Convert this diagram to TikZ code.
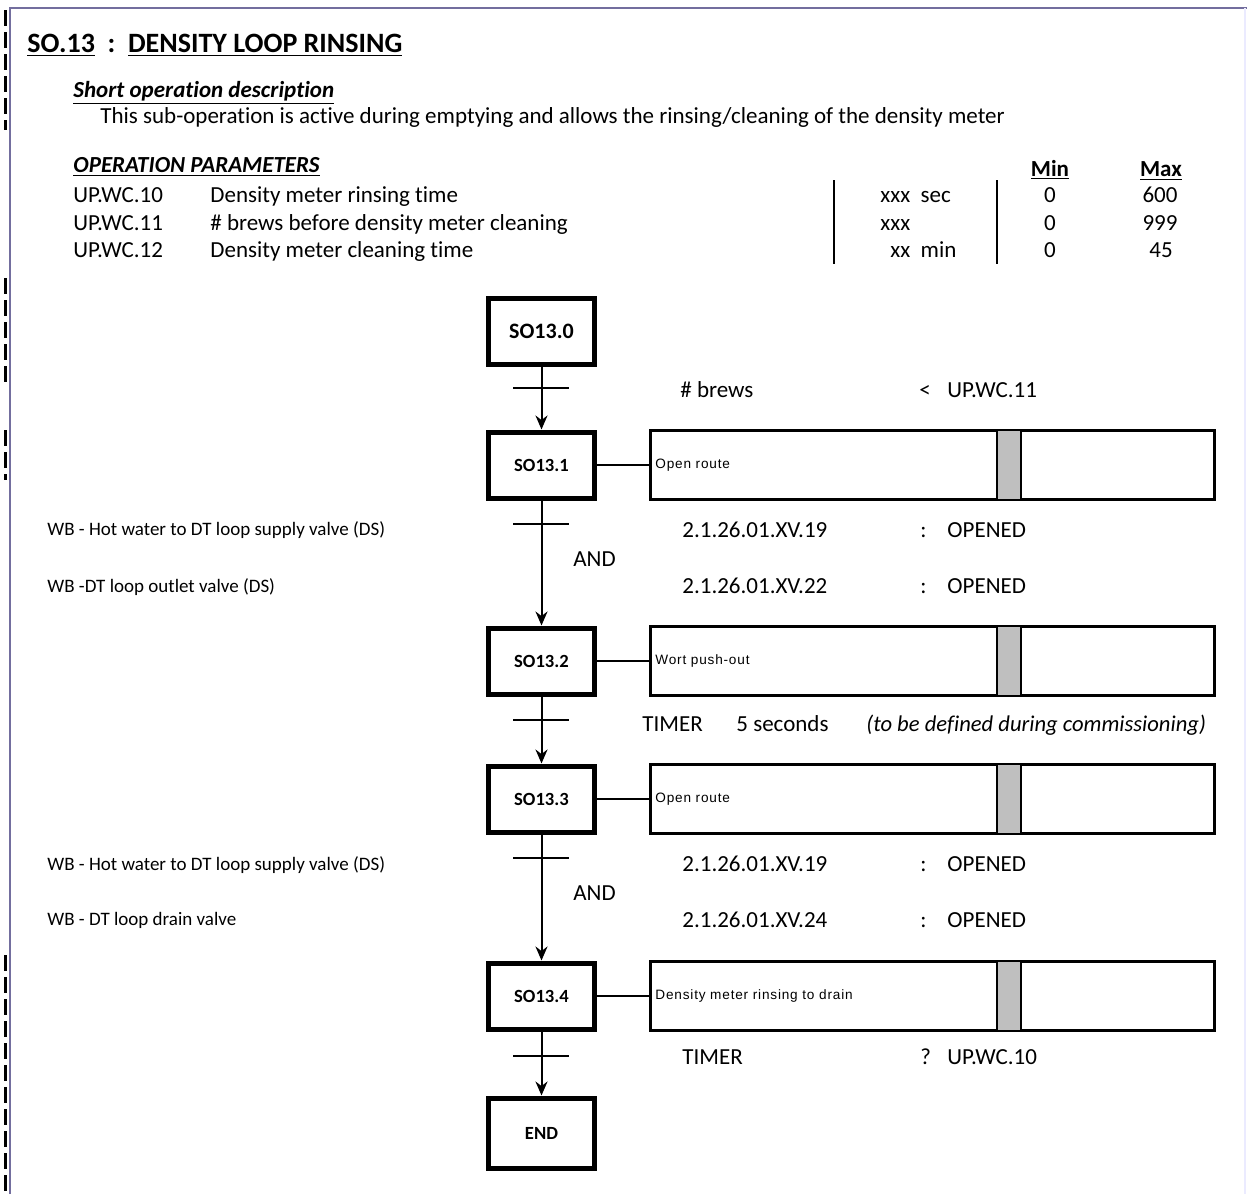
\documentclass[tikz,border=0pt]{standalone}
\usepackage{fontspec}
\setmainfont{Carlito}[Ligatures=NoCommon]
\newfontfamily\arialf{Liberation Sans}[LetterSpace=6]
\usetikzlibrary{arrows.meta}
\definecolor{frame}{rgb}{0.45,0.43,0.62}
\definecolor{strip}{gray}{0.75}
\tikzset{
  txt/.style={inner sep=0pt, anchor=base west, font=\fontsize{11.5}{13}\selectfont},
  txtc/.style={inner sep=0pt, anchor=base, font=\fontsize{11.5}{13}\selectfont},
  lbl/.style={inner sep=0pt, anchor=base west, font=\fontsize{9.5}{11}\selectfont},
  stepbox/.style={draw, line width=2.5pt, minimum width=53pt, minimum height=33pt, inner sep=0pt, font=\fontsize{9.3}{11}\bfseries\selectfont},
  actbox/.style={draw, line width=1.5pt, minimum width=282pt, minimum height=34.5pt, inner sep=0pt},
  acttxt/.style={inner sep=0pt, anchor=west, font=\arialf\fontsize{6.8}{8}\selectfont},
  flow/.style={line width=1pt, -{Stealth[length=7pt,width=6pt]}},
  tick/.style={line width=0.9pt},
}
\begin{document}
\begin{tikzpicture}[x=0.5pt,y=-0.5pt]
\useasboundingbox (0,0) rectangle (1247,1194);
\fill[white] (0,0) rectangle (1247,1194);
% frame
\draw[frame, line width=1.2pt] (10,1194) -- (10,8) -- (1247,8);
\draw[line width=1.5pt, dash pattern=on 8pt off 3pt] (5,10) -- (5,130);
\draw[line width=1.5pt, dash pattern=on 8pt off 3pt] (5,278) -- (5,385);
\draw[line width=1.5pt, dash pattern=on 8pt off 3pt] (5,430) -- (5,480);
\draw[line width=1.5pt, dash pattern=on 8pt off 3pt] (5,955) -- (5,1194);
\draw[blue!8, line width=0.8pt] (1245,8) -- (1245,1194);

% header
\node[txt, font=\fontsize{14}{17}\bfseries\selectfont] (title) at (27,52) {\underline{SO.13}\ \ :\ \ \underline{DENSITY LOOP RINSING}};
\node[txt, font=\fontsize{11.5}{13}\bfseries\itshape\selectfont] (sod) at (73,97) {\underline{Short operation description}};
\node[txt] (desc) at (100,123) {This sub-operation is active during emptying and allows the rinsing/cleaning of the density meter};
\node[txt, font=\fontsize{11.5}{13}\bfseries\itshape\selectfont] (opp) at (73,172) {\underline{OPERATION PARAMETERS}};
\node[txtc, font=\fontsize{11.5}{13}\bfseries\selectfont] (min) at (1050,176) {\underline{Min}};
\node[txtc, font=\fontsize{11.5}{13}\bfseries\selectfont] (max) at (1161,176) {\underline{Max}};

\node[txt] (p1) at (73,202) {UP.WC.10};
\node[txt] (p2) at (73,230) {UP.WC.11};
\node[txt] (p3) at (73,257) {UP.WC.12};
\node[txt] (d1) at (210,202) {Density meter rinsing time};
\node[txt] (d2) at (210,230) {\# brews before density meter cleaning};
\node[txt] (d3) at (210,257) {Density meter cleaning time};
\node[txt] (u1) at (880,202) {xxx\ \ sec};
\node[txt] (u2) at (880,230) {xxx};
\node[txt] (u3) at (890,257) {xx\ \ min};
\node[txtc] (mn1) at (1050,202) {0};
\node[txtc] (mn2) at (1050,230) {0};
\node[txtc] (mn3) at (1050,257) {0};
\node[txtc] (mx1) at (1160,202) {600};
\node[txtc] (mx2) at (1160,230) {999};
\node[txtc] (mx3) at (1161,257) {45};
\coordinate (v1t) at (834,180); \coordinate (v1b) at (834,264);
\coordinate (v2t) at (997,180); \coordinate (v2b) at (997,264);
\draw[line width=1.3pt] (v1t) -- (v1b);
\draw[line width=0.7pt] (v2t) -- (v2b);

% steps
\node[stepbox, font=\fontsize{11}{13}\bfseries\selectfont] (s0) at (541.5,331) {SO13.0};
\node[stepbox] (s1) at (541.5,465) {SO13.1};
\node[stepbox] (s2) at (541.5,661) {SO13.2};
\node[stepbox] (s3) at (541.5,799) {SO13.3};
\node[stepbox] (s4) at (541.5,996) {SO13.4};
\node[stepbox, minimum height=35pt] (se) at (541.5,1133) {END};

% actions
\foreach \n/\y/\t in {a1/465/Open route, a2/661/Wort push-out, a3/799/Open route, a4/996/Density meter rinsing to drain}{
  \node[actbox] (\n) at (932,\y) {};
  \fill[strip] (997,\y-34) rectangle (1021,\y+34);
  \draw[line width=0.6pt] (997,\y-34) -- (997,\y+34) (1021,\y-34) -- (1021,\y+34);
  \node[acttxt] (\n t) at (655,\y) {\t};
}
\foreach \s/\a in {s1/a1, s2/a2, s3/a3, s4/a4}{
  \draw[line width=0.8pt] (\s.east) -- (\a.west);
}

% flow connectors
\draw[flow] (s0) -- (s1);
\draw[flow] (s1) -- (s2);
\draw[flow] (s2) -- (s3);
\draw[flow] (s3) -- (s4);
\draw[flow] (s4) -- (se);
\foreach \i/\y in {0/388, 1/524, 2/720, 3/858, 4/1056}{
  \coordinate (t\i a) at (513,\y); \coordinate (t\i b) at (569,\y);
  \draw[tick] (t\i a) -- (t\i b);
}

% transition texts
\node[txt] (c0a) at (680,397) {\# brews};
\node[txt] (c0b) at (919,397) {<};
\node[txt] (c0c) at (947,397) {UP.WC.11};

\node[txt] (c1a) at (682,537) {2.1.26.01.XV.19};
\node[txt] (c1b) at (920,537) {:};
\node[txt] (c1c) at (947,537) {OPENED};
\node[txt] (and1) at (573,566) {AND};
\node[txt] (c1d) at (682,593) {2.1.26.01.XV.22};
\node[txt] (c1e) at (920,593) {:};
\node[txt] (c1f) at (947,593) {OPENED};
\node[lbl] (l1) at (47,535) {WB - Hot water to DT loop supply valve (DS)};
\node[lbl] (l2) at (47,592) {WB -DT loop outlet valve (DS)};

\node[txt] (c2a) at (642,731) {TIMER};
\node[txt] (c2b) at (736,731) {5 seconds};
\node[txt, font=\fontsize{11.3}{13}\itshape\selectfont] (c2c) at (866,731) {(to be defined during commissioning)};

\node[txt] (c3a) at (682,871) {2.1.26.01.XV.19};
\node[txt] (c3b) at (920,871) {:};
\node[txt] (c3c) at (947,871) {OPENED};
\node[txt] (and2) at (573,900) {AND};
\node[txt] (c3d) at (682,927) {2.1.26.01.XV.24};
\node[txt] (c3e) at (920,927) {:};
\node[txt] (c3f) at (947,927) {OPENED};
\node[lbl] (l3) at (47,870) {WB - Hot water to DT loop supply valve (DS)};
\node[lbl] (l4) at (47,925) {WB - DT loop drain valve};

\node[txt] (c4a) at (682,1064) {TIMER};
\node[txt] (c4b) at (920,1064) {?};
\node[txt] (c4c) at (947,1064) {UP.WC.10};
\end{tikzpicture}
\end{document}
